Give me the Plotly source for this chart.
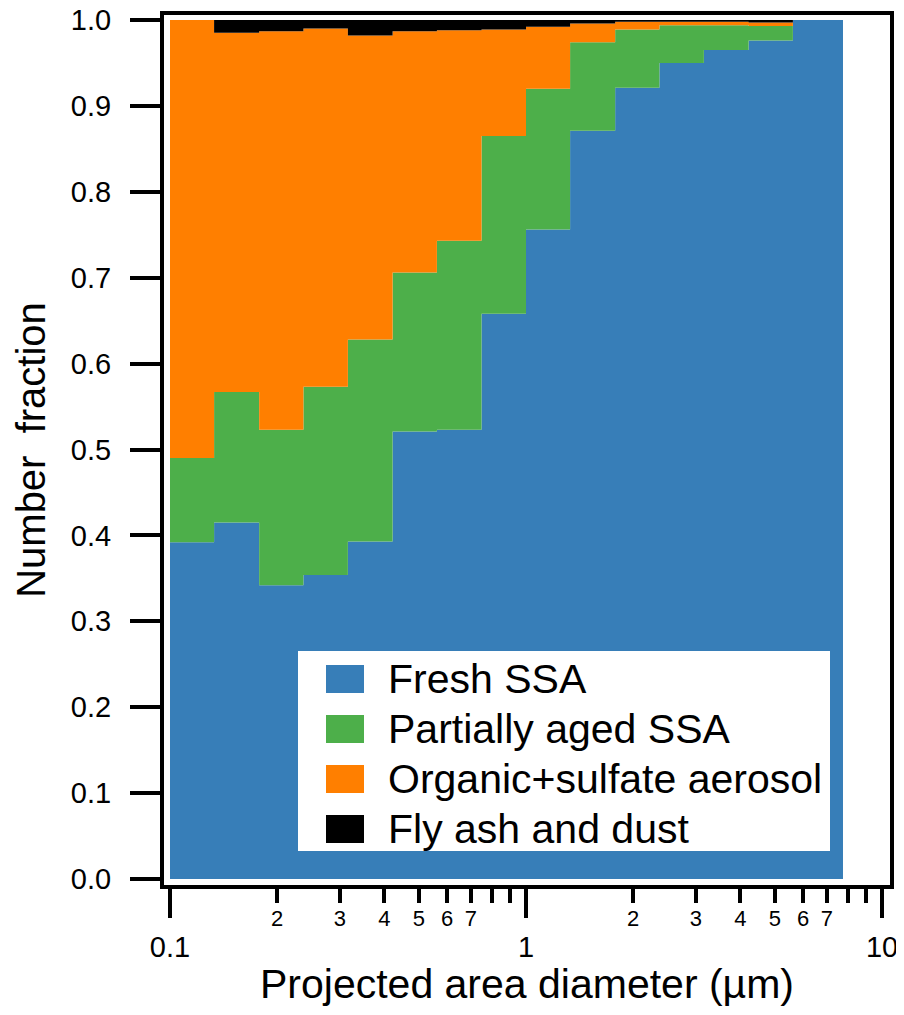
import plotly.graph_objects as go
import numpy as np

# size bins (projected area diameter, um) - lower edges plus last upper edge
bin_edges = [0.1, 0.133, 0.178, 0.237, 0.316, 0.422, 0.562, 0.75,
             1.0, 1.33, 1.78, 2.37, 3.16, 4.22, 5.62, 7.77]

# number fraction per bin for each particle class
fresh_ssa = [0.392, 0.415, 0.342, 0.354, 0.393, 0.521, 0.523, 0.658,
             0.756, 0.871, 0.921, 0.950, 0.965, 0.976, 1.000]
partial_ssa = [0.098, 0.152, 0.181, 0.219, 0.235, 0.185, 0.220, 0.207,
               0.164, 0.103, 0.068, 0.044, 0.029, 0.017, 0.000]
organic_sulfate = [0.510, 0.418, 0.464, 0.417, 0.354, 0.281, 0.245, 0.124,
                   0.072, 0.022, 0.009, 0.004, 0.004, 0.004, 0.000]
fly_ash = [0.000, 0.015, 0.013, 0.010, 0.018, 0.013, 0.012, 0.011,
           0.008, 0.004, 0.002, 0.002, 0.002, 0.003, 0.000]

names = ["Fresh SSA", "Partially aged SSA", "Organic+sulfate aerosol", "Fly ash and dust"]
colors = ["#377eb8", "#4daf4a", "#ff7f00", "#000000"]
series = [fresh_ssa, partial_ssa, organic_sulfate, fly_ash]

FONT = "Liberation Sans, Arial, sans-serif"

fig = go.Figure()
for name, col, vals in zip(names, colors, series):
    # hv steps: each value holds until the next edge, repeat last to close the bin
    yv = list(vals) + [vals[-1]]
    fig.add_trace(go.Scatter(x=bin_edges, y=yv, name=name, mode="lines",
                             line=dict(width=0, shape="hv", color=col),
                             fillcolor=col, stackgroup="one",
                             showlegend=False))

# dummy trace so the minor-label axis gets drawn
fig.add_trace(go.Scatter(x=[], y=[], xaxis="x2", showlegend=False, hoverinfo="skip"))

major_vals = [0.1, 1, 10]
major_text = ["0.1", "1", "10"]
minor_vals = [0.2, 0.3, 0.4, 0.5, 0.6, 0.7, 0.8, 0.9, 2, 3, 4, 5, 6, 7, 8, 9]
minor_lab_vals = [0.2, 0.3, 0.4, 0.5, 0.6, 0.7, 2, 3, 4, 5, 6, 7]
minor_lab_text = ["2", "3", "4", "5", "6", "7", "2", "3", "4", "5", "6", "7"]

xrange = [-1.01685, 1.02247]

# page has an 8px body margin, so the figure is 896x999
fig.update_layout(
    width=896, height=999,
    margin=dict(l=156, r=14, t=7, b=122, autoexpand=False),
    paper_bgcolor="white", plot_bgcolor="white",
    font=dict(family=FONT, color="black"),
    xaxis=dict(type="log", range=xrange, showgrid=False, zeroline=False,
               automargin=False, ticklabeloverflow="allow",
               showline=True, linewidth=4, linecolor="black", mirror=True,
               tickvals=major_vals, ticktext=major_text,
               ticks="outside", ticklen=29, tickwidth=4, tickcolor="black",
               tickfont=dict(size=29), ticklabelstandoff=4,
               minor=dict(tickvals=minor_vals, ticks="outside", ticklen=14,
                          tickwidth=4, tickcolor="black"),
               title=dict(text="Projected area diameter (µm)",
                          font=dict(size=41), standoff=0)),
    xaxis2=dict(type="log", range=xrange, overlaying="x", anchor="y", side="bottom",
                showgrid=False, zeroline=False, showline=False, automargin=False,
                tickvals=minor_lab_vals, ticktext=minor_lab_text,
                ticks="outside", ticklen=14, tickcolor="rgba(0,0,0,0)",
                tickfont=dict(size=22)),
    yaxis=dict(range=[-0.00696, 1.0058], showgrid=False, zeroline=False,
               automargin=False, ticklabeloverflow="allow",
               showline=True, linewidth=4, linecolor="black", mirror=True,
               tickvals=[i / 10 for i in range(11)], tickformat=".1f",
               ticks="outside", ticklen=30, tickwidth=4, tickcolor="black",
               tickfont=dict(size=29), ticklabelstandoff=13,
               title=dict(text="Number  fraction", font=dict(size=40), standoff=14)),
)

# legend drawn by hand so swatches match the reference size
def px_x(X):
    return (X - 164) / 726.0

def px_y(Y):
    return (885 - Y) / 870.0

fig.add_shape(type="rect", xref="paper", yref="paper",
              x0=px_x(298), x1=px_x(830), y0=px_y(851), y1=px_y(651),
              fillcolor="white", line=dict(width=0))
for i, (name, col) in enumerate(zip(names, colors)):
    top = 665 + 50 * i
    fig.add_shape(type="rect", xref="paper", yref="paper",
                  x0=px_x(326), x1=px_x(364), y0=px_y(top + 28), y1=px_y(top),
                  fillcolor=col, line=dict(width=0))
    fig.add_annotation(text=name, xref="paper", yref="paper",
                       x=px_x(386), y=px_y(top + 14), xanchor="left", yanchor="middle",
                       showarrow=False, font=dict(size=41, family=FONT, color="black"))

fig.write_html("out.html")
